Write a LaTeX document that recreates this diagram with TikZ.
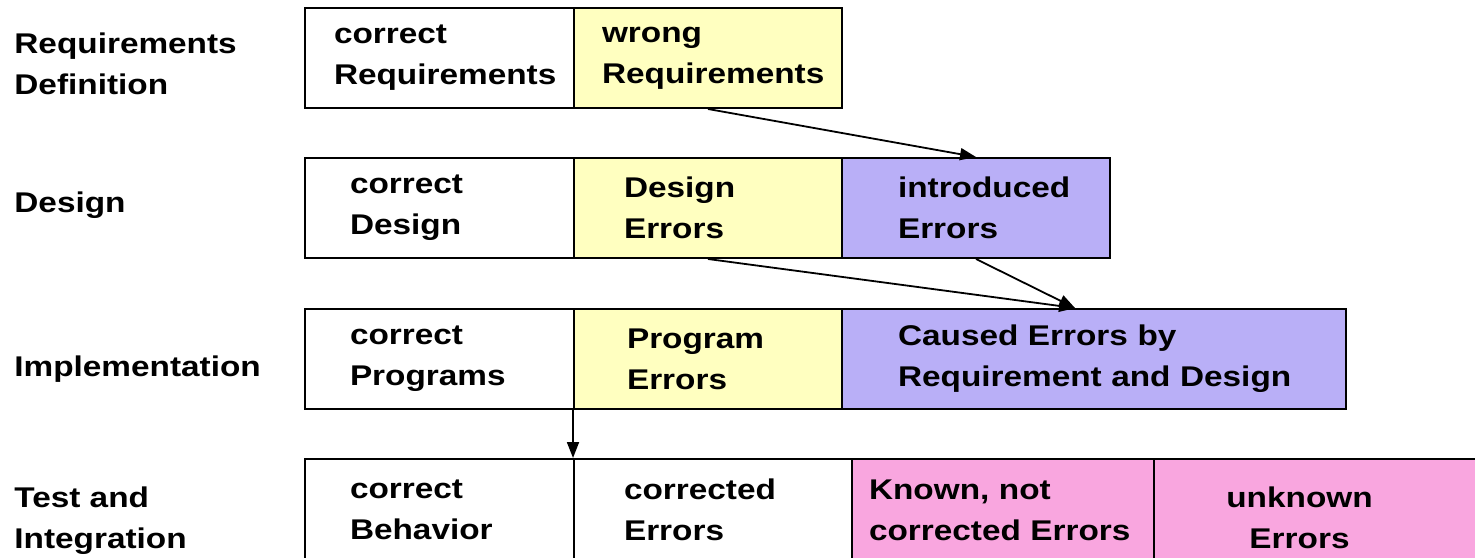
\documentclass[tikz,border=0pt]{standalone}
\usepackage{fontspec}
\setmainfont[FakeStretch=1.17]{Liberation Sans}
\usetikzlibrary{arrows.meta}
\definecolor{wrongyellow}{RGB}{255,255,192}
\definecolor{errviolet}{RGB}{185,175,247}
\definecolor{testpink}{RGB}{249,166,223}
\hyphenpenalty=10000

\begin{document}
\begin{tikzpicture}[x=0.5pt,y=-0.5pt,
    every node/.style={font=\fontsize{14.25pt}{20.5pt}\selectfont\bfseries},
    phase/.style={anchor=north west, align=left, inner sep=0pt},
    cell/.style={draw=black, line width=1pt, anchor=north west, minimum height=50pt, inner ysep=0pt, align=left},
    flow/.style={-{Triangle[length=8pt,width=6pt]}, line width=0.9pt}]
            \useasboundingbox (0,0) rectangle (1475,557);
            \clip (0,0) rectangle (1475,557);
            \node [phase] (reqlbl) at (14,32) {Requirements\\Definition};
            \node [phase] (deslbl) at (14,191) {Design};
            \node [phase] (implbl) at (14,355) {Implementation};
            \node [phase] (testlbl) at (14,486) {Test and\\Integration};
            \node [cell, fill=white, text width=105.5pt, inner xsep=14.5pt] (crq) at (304,7) {correct\\Requirements};
            \node [cell, fill=wrongyellow, text width=106pt, inner xsep=14pt] (wrq) at (573,7) {wrong\\Requirements};
            \node [cell, fill=white, text width=89.5pt, inner xsep=22.5pt] (cds) at (304,157) {correct\\Design};
            \node [cell, fill=wrongyellow, text width=84pt, inner xsep=25pt] (dse) at (573,157) {Design\\Errors};
            \node [cell, fill=errviolet, text width=78pt, inner xsep=28pt] (ine) at (841,157) {introduced\\Errors};
            \node [cell, fill=white, text width=89.5pt, inner xsep=22.5pt] (cpr) at (304,308) {correct\\Programs};
            \node [cell, fill=wrongyellow, text width=81pt, inner xsep=26.5pt] (pre) at (573,308) {Program\\Errors};
            \node [cell, fill=errviolet, text width=196pt, inner xsep=28pt] (cae) at (841,308) {Caused Errors by\\Requirement~and~Design};
            \node [cell, fill=white, minimum height=51pt, text width=89.5pt, inner xsep=22.5pt] (cbh) at (304,458) {correct\\Behavior};
            \node [cell, fill=white, minimum height=51pt, text width=89pt, inner xsep=25pt] (coe) at (573,458) {corrected\\Errors};
            \node [cell, fill=testpink, minimum height=51pt, text width=134pt, inner xsep=8.5pt] (kno) at (851,458) {Known, not\\corrected Errors};
            \node [cell, fill=testpink, minimum height=59pt, text width=88pt, inner xsep=36.5pt] (unk) at (1153,458) {\makebox[72.5pt]{unknown}\\\makebox[72.5pt]{Errors}};
            \coordinate (caein) at (1075,308);
            \draw [flow] (wrq.south) -- (ine.north);
            \draw [flow] (dse.south) -- (caein);
            \draw [flow] (ine.south) -- (caein);
            \draw [flow] (pre.south west) -- (coe.north west);
        \end{tikzpicture}
\end{document}
